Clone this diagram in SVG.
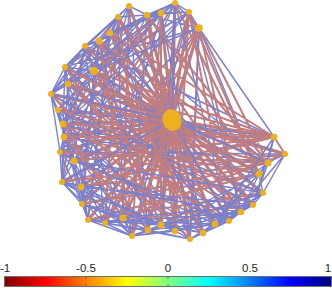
<svg xmlns="http://www.w3.org/2000/svg" width="332" height="288" viewBox="0 0 332 288">
<style>
.r{fill:none;stroke:#c07e80;stroke-width:2;stroke-linecap:round}
.rc{fill:none;stroke:#c07e80;stroke-width:3;stroke-linecap:round}
.b{fill:none;stroke:#7b80cc;stroke-width:1.4;stroke-linecap:round}
.n{fill:#edb120}
.t{font-family:"Liberation Sans",Arial,sans-serif;font-size:11.5px;fill:#262626;text-anchor:middle}
</style>
<defs>
<linearGradient id="jet" x1="4.5" y1="0" x2="331.5" y2="0" gradientUnits="userSpaceOnUse">
<stop offset="0" stop-color="#800000"/>
<stop offset="0.125" stop-color="#ff0000"/>
<stop offset="0.375" stop-color="#ffff00"/>
<stop offset="0.5" stop-color="#80ff80"/>
<stop offset="0.625" stop-color="#00ffff"/>
<stop offset="0.875" stop-color="#0000ff"/>
<stop offset="1" stop-color="#000080"/>
</linearGradient>
</defs>
<g id="connectors">
<path class="rc" d="M172 120L129 6M172 120L147 15M172 120L161 13M172 120L175 3M172 120L189 12M172 120L199 28M172 120L118 17M172 120L110 33M172 120L99 41M172 120L85 46M172 120L94 71M172 120L65 67M172 120L68 84M172 120L51 94M172 120L58 110M172 120L63 124M172 120L64 137M172 120L60 152M172 120L74 161M172 120L62 182M172 120L81 187M172 120L82 204M172 120L88 220M172 120L105 223M172 120L123 218M172 120L132 236M172 120L148 230M172 120L161 225M172 120L175 231M172 120L190 239M172 120L203 233M172 120L215 224M172 120L229 221M172 120L241 212M172 120L253 205M172 120L263 193M172 120L259 174M172 120L268 163M172 120L285 154M172 120L274 137"/>
<path class="r" d="M129 6L123 218M147 15L132 236M161 13L148 230M175 3L161 225M189 12L175 231M199 28L190 239M118 17L105 223M110 33L88 220M99 41L82 204M85 46L62 182M94 71L203 233M65 67L215 224M68 84L229 221M51 94L241 212M58 110L253 205M63 124L263 193M64 137L259 174M60 152L268 163M74 161L274 137M62 182L274 137M81 187L268 163M82 204L259 174M88 220L263 193M147 15L259 174M199 28L241 212M147 15L65 67M161 13L94 71M118 17L68 84M161 13L63 124M175 3L74 161M199 28L82 204M189 12L51 94"/>
<path class="b" d="M129 6L85 46M129 6L65 67M129 6L63 124M129 6L81 187M129 6L148 230M147 15L99 41M147 15L94 71M147 15L51 94M147 15L74 161M147 15L175 231M147 15L118 17M161 13L110 33M161 13L68 84M161 13L64 137M161 13L105 223M161 13L203 233M161 13L85 46M175 3L147 15M175 3L99 41M175 3L58 110M175 3L82 204M175 3L161 225M175 3L229 221M189 12L161 13M189 12L94 71M189 12L60 152M189 12L132 236M189 12L241 212M189 12L118 17M199 28L175 3M199 28L65 67M199 28L74 161M199 28L190 239M199 28L259 174M199 28L147 15M118 17L94 71M118 17L51 94M118 17L62 182M118 17L123 218M118 17L253 205M110 33L65 67M110 33L63 124M110 33L88 220M110 33L203 233M110 33L268 163M99 41L68 84M99 41L58 110M99 41L81 187M99 41L148 230M99 41L263 193M85 46L51 94M85 46L64 137M85 46L105 223M85 46L215 224M85 46L274 137M94 71L58 110M94 71L60 152M94 71L82 204M94 71L175 231M94 71L259 174M94 71L68 84M65 67L63 124M65 67L74 161M65 67L88 220M65 67L229 221M68 84L64 137M68 84L62 182M68 84L132 236M68 84L241 212M68 84L285 154M51 94L60 152M51 94L81 187M51 94L161 225M51 94L253 205M58 110L74 161M58 110L82 204M58 110L148 230M58 110L263 193M58 110L274 137M63 124L62 182M63 124L88 220M63 124L190 239M63 124L259 174M64 137L81 187M64 137L123 218M64 137L203 233M64 137L268 163M60 152L82 204M60 152L132 236M60 152L215 224M60 152L285 154"/>
<path class="r" d="M274 137L63 124M274 137L64 137M274 137L94 71M274 137L68 84M274 137L74 161M274 137L110 33M274 137L81 187M274 137L285 154M268 163L58 110M268 163L60 152M268 163L99 41M268 163L147 15M268 163L82 204M268 163L199 28M259 174L65 67M259 174L175 3M259 174L88 220M259 174L189 12M285 154L123 218M285 154L51 94M285 154L62 182M263 193L85 46M263 193L132 236M253 205L118 17M253 205L105 223M241 212L94 71M229 221L189 12M229 221L63 124M215 224L129 6M215 224L68 84M203 233L99 41M203 233L60 152M190 239L110 33M190 239L51 94M175 231L147 15M175 231L65 67M161 225L85 46M161 225L161 13M148 230L118 17M148 230L64 137M132 236L199 28M132 236L99 41M123 218L189 12M123 218L63 124M105 223L199 28"/>
<path class="b" d="M129 6L147 15L161 13L175 3L189 12L199 28L274 137M129 6L118 17L110 33L99 41L85 46L65 67L51 94L58 110L63 124L64 137L60 152L74 161L62 182L81 187M62 182L82 204L88 220L105 223L123 218L132 236L148 230L161 225L175 231L190 239L203 233L215 224L229 221L241 212L253 205L263 193L259 174L268 163L285 154M105 223L132 236M65 67L68 84L51 94M60 152L62 182M268 163L274 137M94 71L85 46M94 71L65 67M94 71L99 41"/>
<path class="b" d="M74 161L88 220M74 161L105 223M74 161L229 221M74 161L263 193M62 182L105 223M62 182L123 218M62 182L161 225M62 182L241 212M81 187L88 220M81 187L132 236M81 187L175 231M81 187L253 205M82 204L123 218M82 204L148 230M82 204L203 233M88 220L132 236M88 220L161 225M88 220L215 224M105 223L148 230M105 223L190 239M105 223L241 212M123 218L161 225M123 218L203 233M123 218L253 205M132 236L175 231M132 236L215 224M148 230L190 239M148 230L229 221M148 230L263 193M161 225L203 233M161 225L241 212M161 225L259 174M175 231L215 224M175 231L253 205M175 231L268 163M190 239L229 221M190 239L263 193M203 233L241 212M203 233L259 174M215 224L253 205M215 224L268 163M215 224L274 137M229 221L263 193M229 221L285 154M241 212L259 174M253 205L268 163M253 205L274 137M263 193L285 154M172 120L51 94M172 120L62 182M172 120L229 221M172 120L175 3M172 120L268 163M199 28L94 71M175 3L110 33M189 12L63 124M161 13L51 94"/>
</g>
<g id="n1"><circle class="n" cx="129" cy="6" r="3"/></g>
<g id="n2"><circle class="n" cx="147" cy="15" r="3.3"/></g>
<g id="n3"><circle class="n" cx="161" cy="13" r="3.3"/></g>
<g id="n4"><circle class="n" cx="175" cy="3" r="3"/></g>
<g id="n5"><circle class="n" cx="189" cy="12" r="3"/></g>
<g id="n6"><circle class="n" cx="199" cy="28" r="3.8"/></g>
<g id="n7"><circle class="n" cx="118" cy="17" r="3"/></g>
<g id="n8"><circle class="n" cx="110" cy="33" r="3.3"/></g>
<g id="n9"><circle class="n" cx="99" cy="41" r="3.5"/></g>
<g id="n10"><circle class="n" cx="85" cy="46" r="3"/></g>
<g id="n11"><circle class="n" cx="94" cy="71" r="4.2"/></g>
<g id="n12"><circle class="n" cx="65" cy="67" r="3"/></g>
<g id="n13"><circle class="n" cx="68" cy="84" r="3.3"/></g>
<g id="n14"><circle class="n" cx="51" cy="94" r="3"/></g>
<g id="n15"><circle class="n" cx="58" cy="110" r="3"/></g>
<g id="n16"><circle class="n" cx="63" cy="124" r="3.4"/></g>
<g id="n17"><circle class="n" cx="64" cy="137" r="3.4"/></g>
<g id="n18"><circle class="n" cx="60" cy="152" r="3"/></g>
<g id="n19"><circle class="n" cx="74" cy="161" r="3.5"/></g>
<g id="n20"><circle class="n" cx="62" cy="182" r="3"/></g>
<g id="n21"><circle class="n" cx="81" cy="187" r="3.4"/></g>
<g id="n22"><circle class="n" cx="82" cy="204" r="3"/></g>
<g id="n23"><circle class="n" cx="88" cy="220" r="3"/></g>
<g id="n24"><circle class="n" cx="105" cy="223" r="3"/></g>
<g id="n25"><circle class="n" cx="123" cy="218" r="3.5"/></g>
<g id="n26"><circle class="n" cx="132" cy="236" r="3"/></g>
<g id="n27"><circle class="n" cx="148" cy="230" r="3.3"/></g>
<g id="n28"><circle class="n" cx="161" cy="225" r="3.5"/></g>
<g id="n29"><circle class="n" cx="175" cy="231" r="3.3"/></g>
<g id="n30"><circle class="n" cx="190" cy="239" r="3"/></g>
<g id="n31"><circle class="n" cx="203" cy="233" r="3.3"/></g>
<g id="n32"><circle class="n" cx="215" cy="224" r="3.3"/></g>
<g id="n33"><circle class="n" cx="229" cy="221" r="3"/></g>
<g id="n34"><circle class="n" cx="241" cy="212" r="3.3"/></g>
<g id="n35"><circle class="n" cx="253" cy="205" r="3"/></g>
<g id="n36"><circle class="n" cx="263" cy="193" r="3"/></g>
<g id="n37"><circle class="n" cx="259" cy="174" r="3.5"/></g>
<g id="n38"><circle class="n" cx="268" cy="163" r="3.5"/></g>
<g id="n39"><circle class="n" cx="285" cy="154" r="3"/></g>
<g id="n40"><circle class="n" cx="274" cy="137" r="3.3"/></g>
<g id="n41"><ellipse class="n" cx="172" cy="120" rx="9.5" ry="11" transform="rotate(-25 172 120)"/></g>
<g id="colorbar">
<rect x="4.5" y="276.5" width="327" height="10" fill="url(#jet)" stroke="#6f6f6f" stroke-width="1"/>
<path d="M86 276.5V279M168 276.5V279M250 276.5V279M86 286.5V284M168 286.5V284M250 286.5V284" stroke="#555" stroke-width="0.8"/>
<text class="t" x="5" y="272">-1</text>
<text class="t" x="86" y="272">-0.5</text>
<text class="t" x="168" y="272">0</text>
<text class="t" x="250" y="272">0.5</text>
<text class="t" x="328" y="272">1</text>
</g>
</svg>
